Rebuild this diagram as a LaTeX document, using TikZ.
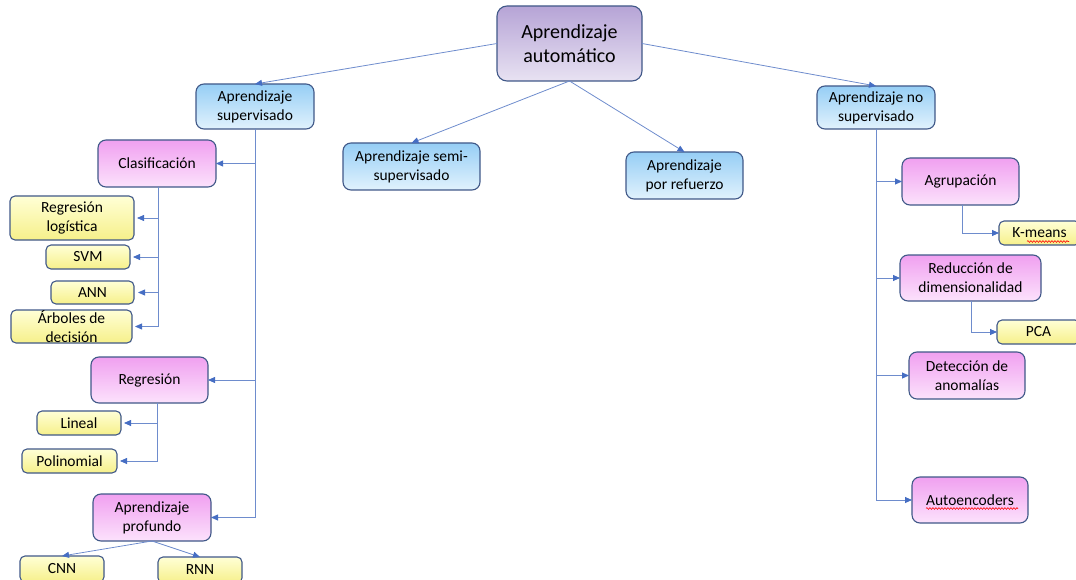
\documentclass[tikz,border=0pt]{standalone}
\usepackage{fontspec}
\setmainfont{Carlito}
\usetikzlibrary{arrows.meta,decorations.pathmorphing}

\definecolor{edgeblue}{RGB}{64,88,136}
\definecolor{linkblue}{RGB}{110,140,205}
\definecolor{tipblue}{RGB}{70,110,195}

\tikzset{
  x=1pt, y=-1pt,
  basebox/.style={draw=edgeblue, line width=1.1pt, inner sep=0pt, outer sep=0pt,
    align=center, text=black, font=\fontsize{15.5}{19}\selectfont},
  rootbox/.style={basebox, rounded corners=10pt, top color={rgb,255:red,182;green,164;blue,214},
    bottom color={rgb,255:red,232;green,226;blue,242}, font=\fontsize{20}{24}\selectfont},
  bluebox/.style={basebox, rounded corners=8pt, top color={rgb,255:red,150;green,206;blue,245},
    bottom color={rgb,255:red,225;green,242;blue,253}},
  pinkbox/.style={basebox, rounded corners=8pt, top color={rgb,255:red,240;green,160;blue,240},
    bottom color={rgb,255:red,252;green,226;blue,252}},
  leafbox/.style={basebox, rounded corners=5pt, top color={rgb,255:red,255;green,255;blue,214},
    bottom color={rgb,255:red,246;green,240;blue,138}},
  conn/.style={draw=linkblue, line width=0.8pt,
    -{Triangle[length=7pt,width=6pt,fill=tipblue,color=tipblue]}},
  spell/.style={draw=red, line width=0.55pt,
    decorate, decoration={snake, amplitude=0.9pt, segment length=3pt}}
}

\begin{document}
\begin{tikzpicture}
\useasboundingbox (0,0) rectangle (1076,580);

% top level
\node[rootbox, minimum width=145pt, minimum height=75pt] (ml) at (569.5,43.5) {Aprendizaje\\automático};
\node[bluebox, minimum width=118pt, minimum height=45pt] (sup) at (255,106.5) {Aprendizaje\\supervisado};
\node[bluebox, minimum width=137pt, minimum height=47pt] (semi) at (411.5,166.5) {Aprendizaje semi-\\supervisado};
\node[bluebox, minimum width=117pt, minimum height=47pt] (ref) at (684.5,175.5) {Aprendizaje\\por refuerzo};
\node[bluebox, minimum width=118pt, minimum height=43pt] (nosup) at (876,107.5) {Aprendizaje no\\supervisado};

% supervised branch
\node[pinkbox, minimum width=118pt, minimum height=47pt] (clas) at (157,163.5) {Clasificación};
\node[leafbox, minimum width=124pt, minimum height=44pt] (rlog) at (72,218) {Regresión\\logística};
\node[leafbox, minimum width=84pt, minimum height=24pt] (svm) at (88,257) {SVM};
\node[leafbox, minimum width=83pt, minimum height=23pt] (ann) at (92.5,292.5) {ANN};
\node[leafbox, minimum width=121pt, minimum height=33pt] (arb) at (71.5,326.5) {Árboles de\\decisión};
\node[pinkbox, minimum width=117pt, minimum height=46pt] (reg) at (149.5,380) {Regresión};
\node[leafbox, minimum width=84pt, minimum height=24pt] (lin) at (79,423) {Lineal};
\node[leafbox, minimum width=95pt, minimum height=24pt] (pol) at (69.5,461) {Polinomial};
\node[pinkbox, minimum width=118pt, minimum height=47pt] (prof) at (152,517.5) {Aprendizaje\\profundo};
\node[leafbox, minimum width=84pt, minimum height=26pt] (cnn) at (62,569) {CNN};
\node[leafbox, minimum width=84pt, minimum height=26pt] (rnn) at (200,570) {RNN};

% unsupervised branch
\node[pinkbox, minimum width=117pt, minimum height=47pt] (agr) at (960.5,181.5) {Agrupación};
\node[leafbox, minimum width=81pt, minimum height=24pt] (km) at (1039.5,233) {K-means};
\node[pinkbox, minimum width=141pt, minimum height=46pt] (red) at (970.5,278) {Reducción de\\dimensionalidad};
\node[leafbox, minimum width=83pt, minimum height=24pt] (pca) at (1038.5,332) {PCA};
\node[pinkbox, minimum width=116pt, minimum height=47pt] (det) at (967,375.5) {Detección de\\anomalías};
\node[pinkbox, minimum width=116pt, minimum height=46pt] (auto) at (970,500) {Autoencoders};

% spell-check marks
\draw[spell] (1027,241.5) -- (1069,241.5);
\draw[spell] (926,508.5) -- (1018,508.5);

% links from the root
\draw[conn] (ml.west) -- (sup.north);
\draw[conn] (ml.east) -- (nosup.north);
\draw[conn] (ml.south) -- (semi.north);
\draw[conn] (ml.south) -- (ref.north);

% supervised tree
\draw[conn] (sup.south) |- (clas.east);
\draw[conn] (sup.south) |- (reg.east);
\draw[conn] (sup.south) |- (prof.east);

\coordinate (clasdrop) at (158,187);
\draw[conn, shorten >=3pt] (clasdrop) |- (rlog.east);
\draw[conn, shorten >=3pt] (clasdrop) |- (svm.east);
\draw[conn, shorten >=4pt] (clasdrop) |- (ann.east);
\draw[conn, shorten >=3pt] (clasdrop) |- (arb.east);

\coordinate (regdrop) at (157,403);
\draw[conn, shorten >=3pt] (regdrop) |- (lin.east);
\draw[conn, shorten >=3pt] (regdrop) |- (pol.east);

\draw[conn] (prof.south) -- (cnn.north);
\draw[conn] (prof.south) -- (rnn.north);

% unsupervised tree
\draw[conn] (nosup.south) |- (agr.west);
\draw[conn] (nosup.south) |- (red.west);
\draw[conn] (nosup.south) |- (det.west);
\draw[conn] (nosup.south) |- (auto.west);

\coordinate (agrdrop) at (962,205);
\draw[conn] (agrdrop) |- (km.west);
\coordinate (reddrop) at (971,301);
\draw[conn] (reddrop) |- (pca.west);
\end{tikzpicture}
\end{document}
